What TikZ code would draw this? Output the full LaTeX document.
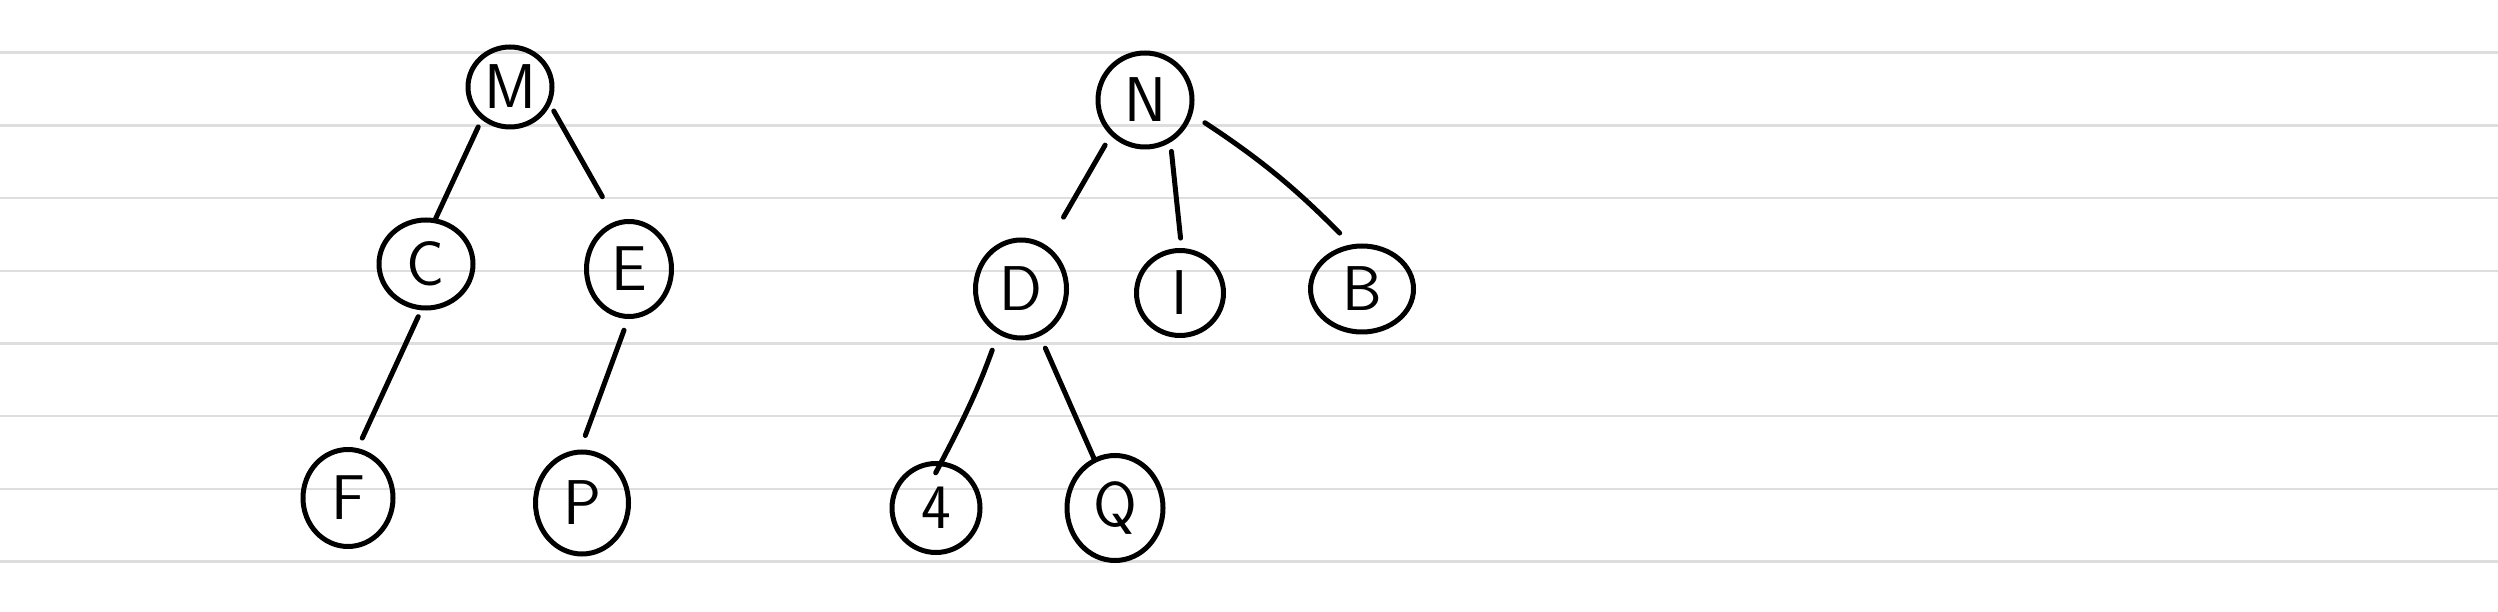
\documentclass[tikz,border=0pt]{standalone}
\usetikzlibrary{shapes.geometric}
\begin{document}
\begin{tikzpicture}[x=0.1mm, y=-0.1mm,
vertex/.style={ellipse, draw=black, line width=0.5mm, inner sep=0pt,
minimum width=9.2mm, minimum height=9.2mm, font=\sffamily\fontsize{18}{20}\selectfont},
branch/.style={line width=0.5mm, line cap=round},
ruling/.style={draw=black!13, line width=0.25mm}]
\useasboundingbox (0,0) rectangle (2498,612);
% ruled paper
\draw[ruling] (0,52.7)--(2498,52.7);
\draw[ruling] (0,125.4)--(2498,125.4);
\draw[ruling] (0,198.1)--(2498,198.1);
\draw[ruling] (0,270.8)--(2498,270.8);
\draw[ruling] (0,343.5)--(2498,343.5);
\draw[ruling] (0,416.2)--(2498,416.2);
\draw[ruling] (0,488.9)--(2498,488.9);
\draw[ruling] (0,561.6)--(2498,561.6);
% left tree
\node[vertex, minimum width=8.4mm, minimum height=8mm] (m) at (510,87) {M};
\node[vertex, minimum width=9.4mm, minimum height=8.8mm] (c) at (426,264) {C};
\node[vertex, minimum width=8.5mm, minimum height=9.5mm] (e) at (629,269) {E};
\node[vertex, minimum width=9mm, minimum height=9.7mm] (f) at (348,498) {F};
\node[vertex, minimum width=9.3mm, minimum height=10.2mm] (p) at (582,503) {P};
\draw[branch, shorten <=0.8mm] (m.229) -- (c.78);
\draw[branch, shorten <=0.7mm, shorten >=2.8mm] (m.336) -- (e.105);
\draw[branch, shorten <=0.7mm, shorten >=1.1mm] (c.264) -- (f.79);
\draw[branch, shorten <=1.2mm, shorten >=1.5mm] (e.269) -- (p.92);
% right tree
\node[vertex, minimum width=9.4mm, minimum height=9.4mm] (n) at (1145,100) {N};
\node[vertex, minimum width=9.1mm, minimum height=9.8mm] (d) at (1021,289) {D};
\node[vertex, minimum width=8.7mm, minimum height=8.5mm] (i) at (1180,293) {I};
\node[vertex, minimum width=10.3mm, minimum height=8.6mm] (b) at (1362,289) {B};
\node[vertex, minimum width=8.8mm, minimum height=8.9mm] (four) at (936,508) {4};
\node[vertex, minimum width=9.6mm, minimum height=10.5mm] (q) at (1115,508) {Q};
\draw[branch, shorten <=1.1mm, shorten >=3.3mm] (n.226) -- (d.59);
\draw[branch, shorten <=0.9mm, shorten >=1mm] (n.301) -- (i.88);
\draw[branch, shorten <=1.5mm, shorten >=1.6mm] (n.343) to[bend left=6] (b.104);
\draw[branch, shorten <=1.7mm, shorten >=-1.3mm] (d.243) to[bend left=4] (four.83);
\draw[branch, shorten <=1.3mm] (d.292) -- (q.113);
\end{tikzpicture}
\end{document}
